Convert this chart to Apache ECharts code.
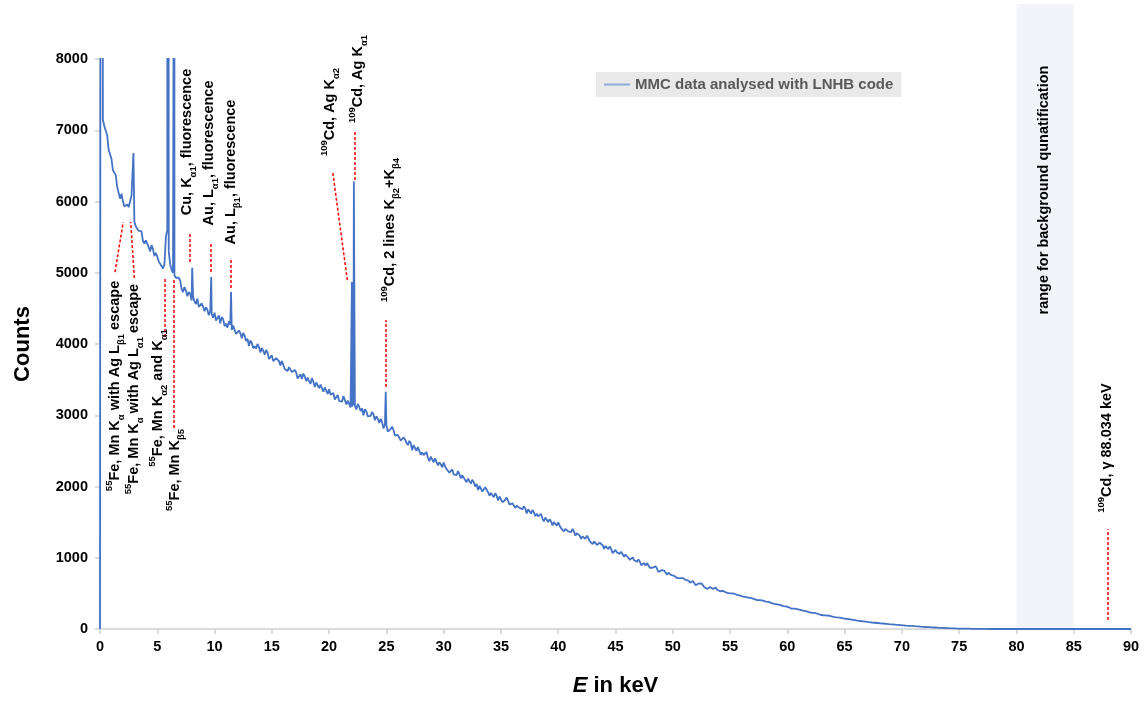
<!DOCTYPE html>
<html><head><meta charset="utf-8">
<script src="https://cdn.jsdelivr.net/npm/echarts@6/dist/echarts.min.js"></script>
<style>html,body{margin:0;padding:0;background:#fff}#c{width:1147px;height:702px}</style>
</head><body><div id="c"></div>
<script>
// ---- data ----
const seriesName = 'MMC data analysed with LNHB code';
const energyStep = 0.25; // keV between consecutive values of `counts`, starting at 0 keV
const counts = [
  0, 7150, 7035, 6730,
  6600, 6455, 6205, 6040,
  6005, 5925, 5920, 6080,
  5720, 5670, 5615, 5445,
  5455, 5360, 5390, 5235,
  5225, 5125, 5060, 5500,
  5300, 5040, 4960, 4905,
  4890, 4730, 4750, 4730,
  4610, 4600, 4635, 4500,
  4525, 4515, 4405, 4420,
  4440, 4345, 4290, 4350,
  4285, 4320, 4195, 4235,
  4120, 4155, 4155, 4040,
  3970, 4015, 3970, 4000,
  3880, 3905, 3915, 3790,
  3840, 3770, 3825, 3700,
  3710, 3630, 3675, 3605,
  3635, 3515, 3575, 3585,
  3480, 3480, 3520, 3395,
  3435, 3430, 3330, 3345,
  3365, 3275, 3220, 3285,
  3225, 3270, 3150, 3200,
  3125, 3135, 3160, 3060,
  3000, 3055, 3010, 3045,
  2930, 2950, 2950, 2815,
  2860, 2785, 2840, 2715,
  2725, 2645, 2690, 2615,
  2640, 2510, 2560, 2555,
  2445, 2440, 2485, 2355,
  2395, 2395, 2295, 2310,
  2335, 2245, 2195, 2240,
  2185, 2215, 2115, 2150,
  2060, 2090, 2095, 2000,
  1950, 1990, 1945, 1970,
  1870, 1895, 1905, 1805,
  1850, 1795, 1845, 1745,
  1765, 1700, 1750, 1690,
  1725, 1620, 1665, 1670,
  1585, 1580, 1615, 1510,
  1545, 1540, 1455, 1475,
  1495, 1415, 1370, 1425,
  1375, 1405, 1310, 1355,
  1265, 1305, 1310, 1230,
  1190, 1225, 1190, 1220,
  1125, 1150, 1160, 1065,
  1110, 1060, 1085, 1015,
  1025, 970, 1005, 955,
  975, 895, 925, 925,
  860, 860, 880, 800,
  825, 820, 760, 770,
  780, 725, 695, 730,
  695, 715, 650, 675,
  615, 638, 640, 588,
  560, 589, 563, 581,
  525, 540, 550, 490,
  515, 487, 505, 460,
  468, 437, 457, 428,
  440, 394, 416, 417,
  378, 376, 390, 342,
  356, 354, 315, 320,
  327, 290, 270, 292,
  268, 279, 240, 256,
  220, 232, 233, 199,
  182, 198, 185, 194,
  161, 171, 173, 140,
  154, 137, 145, 122,
  124, 107, 117, 102,
  108, 85, 95, 94,
  76, 76, 83, 62,
  69, 69, 53, 56,
  60, 46, 39, 50,
  41, 45, 31, 37,
  25, 29, 29, 19,
  16, 20, 15, 17,
  9, 11, 11, 5,
  7, 5, 3, 5,
  2, 3, 1, 2,
  1, 0, 1, 0,
  0
];
// channels in between (0.125 keV + n * 0.25 keV)
const midCounts = [
  0, 7060, 6930, 6720,
  6440, 6370, 6190, 6110,
  5930, 5960, 5930, 6100,
  5650, 5590, 5580, 5410,
  5440, 5300, 5330, 5280,
  5160, 5100, 5120, 5600,
  5120, 5000, 4930, 4930,
  4770, 4800, 4670, 4700,
  4660, 4560, 4520, 4570,
  4460, 4480, 4460, 4370,
  4330, 4400, 4380, 4250,
  4230, 4270, 4260, 4140,
  4190, 4080, 4120, 4075,
  4050, 3940, 3935, 3960,
  3945, 3850, 3880, 3800,
  3760, 3800, 3760, 3760,
  3650, 3620, 3660, 3580,
  3600, 3545, 3510, 3545,
  3530, 3440, 3470, 3460,
  3380, 3410, 3390, 3300,
  3290, 3310, 3255, 3200,
  3190, 3215, 3205, 3110,
  3160, 3080, 3120, 3095,
  3085, 2985, 2990, 3010,
  2985, 2890, 2900, 2880,
  2770, 2810, 2790, 2690,
  2730, 2640, 2660, 2580,
  2610, 2580, 2500, 2530,
  2480, 2415, 2400, 2420,
  2340, 2370, 2340, 2270,
  2280, 2270, 2210, 2170,
  2160, 2170, 2160, 2090,
  2110, 2040, 2060, 2035,
  2010, 1930, 1990, 1920,
  1910, 1850, 1870, 1860,
  1780, 1810, 1800, 1740,
  1745, 1730, 1700, 1680,
  1690, 1680, 1620, 1640,
  1620, 1560, 1550, 1565,
  1500, 1510, 1500, 1450,
  1450, 1420, 1405, 1370,
  1360, 1365, 1345, 1310,
  1300, 1265, 1280, 1250,
  1230, 1180, 1210, 1175,
  1165, 1120, 1120, 1080,
  1075, 1055, 1050, 1045,
  1000, 985, 965, 945,
  945, 920, 890, 900,
  880, 845, 845, 815,
  800, 795, 790, 755,
  745, 715, 715, 715,
  690, 680, 665, 650,
  630, 615, 615, 580,
  580, 575, 565, 550,
  530, 535, 515, 505,
  500, 495, 480, 470,
  455, 448, 440, 432,
  418, 404, 405, 398,
  383, 380, 362, 352,
  346, 338, 322, 318,
  305, 285, 286, 278,
  268, 258, 250, 236,
  228, 225, 214, 200,
  193, 190, 186, 176,
  167, 163, 160, 150,
  144, 140, 131, 125,
  117, 112, 108, 104,
  96, 91, 88, 84,
  79, 77, 72, 67,
  64, 61, 58, 55,
  52, 48, 45, 43,
  40, 38, 34, 31,
  28, 26, 23, 21,
  18, 17, 15, 13,
  11, 10, 8, 6,
  6, 4, 4, 4,
  3, 2, 2, 1,
  1, 1, 0, 0
];
const tailEnergy = [79, 80, 81, 82, 83, 84, 85, 86, 87, 87.9, 88.15, 89, 90];
const tailCounts = [1, 0, 1, 0, 0, 1, 0, 0, 1, 0, 0, 1, 0];
// sharp lines (peaks) and the low-energy edge
const lineEnergy = [0.1, 0.13, 2.92, 5.90, 6.49, 8.05, 9.71, 11.44, 21.99, 22.16, 24.94, 88.03];
const lineCounts = [0, 30000, 6680, 40000, 14000, 5070, 4940, 4730, 4870, 6280, 3330, 20];

// axes
const xMin = 0, xMax = 90, xStep = 5;
const yMin = 0, yMax = 8000, yStep = 1000;
const bandRange = [80, 85];

// annotations
const annotationTexts = [
  '{sup|55}{t|Fe, Mn K}{sub|α}{t| with Ag L}{sub|β1}{t| escape}',
  '{sup|55}{t|Fe, Mn K}{sub|α}{t| with Ag L}{sub|α1}{t| escape}',
  '{sup|55}{t|Fe, Mn K}{sub|α2}{t| and K}{sub|α1}',
  '{sup|55}{t|Fe, Mn K}{sub|β5}',
  '{t|Cu, K}{sub|α1}{t|, fluorescence}',
  '{t|Au, L}{sub|α1}{t|, fluorescence}',
  '{t|Au, L}{sub|β1}{t|, fluorescence}',
  '{sup|109}{t|Cd, Ag K}{sub|α2}',
  '{sup|109}{t|Cd, Ag K}{sub|α1}',
  '{sup|109}{t|Cd, 2 lines K}{sub|β2}{t|+K}{sub|β4}',
  '{t|range for background qunatification}',
  '{sup|109}{t|Cd, γ 88.034 keV}'
];
const annotationE =      [1.35, 2.97, 5.06, 6.59, 7.59, 9.51, 11.43, 20.08, 22.52, 25.31, 82.4, 87.9];
const annotationCounts = [3411, 3368, 3242, 2232, 6835, 6681, 6414, 7256, 7719, 5600, 6161, 2540];
// leader lines
const leaderFromE = [1.31, 3.0, 5.67, 6.4, 7.86, 9.66, 11.43, 21.59, 22.26, 24.97, 88.0];
const leaderFromC = [5010, 4926, 4098, 2820, 5151, 5011, 4786, 4898, 6302, 3396, 126];
const leaderToE =   [2.03, 2.68, 5.67, 6.4, 7.86, 9.66, 11.43, 20.31, 22.26, 24.97, 88.0];
const leaderToC =   [5712, 5712, 4940, 4926, 5572, 5418, 5207, 6418, 7003, 4337, 1400];

// ---- build ----
const points = counts.map((c, i) => [i * energyStep, c])
  .concat(midCounts.map((c, i) => [energyStep / 2 + i * energyStep, c]))
  .concat(tailEnergy.map((e, i) => [e, tailCounts[i]]))
  .concat(lineEnergy.map((e, i) => [e, lineCounts[i]]))
  .sort((a, b) => a[0] - b[0]);

const FONT = '"Liberation Sans", Arial, Helvetica, sans-serif';
const rich = {
  t:   {fontSize: 14.5, fontWeight: 'bold', color: '#000', fontFamily: FONT, lineHeight: 22},
  sup: {fontSize: 9.5, fontWeight: 'bold', color: '#000', fontFamily: FONT, lineHeight: 11, verticalAlign: 'top'},
  sub: {fontSize: 9.5, fontWeight: 'bold', color: '#000', fontFamily: FONT, lineHeight: 11, verticalAlign: 'bottom'}
};

const chart = echarts.init(document.getElementById('c'), null, {renderer: 'canvas'});
chart.setOption({
  animation: false,
  backgroundColor: '#fff',
  grid: [
    {left: 100, right: 16, top: 59, bottom: 73},
    {left: 100, right: 16, top: 4, bottom: 73}
  ],
  legend: {
    data: [seriesName], left: 596, top: 72,
    backgroundColor: '#e9e9e9', padding: [5, 8],
    icon: 'rect', itemWidth: 26, itemHeight: 2,
    itemStyle: {color: '#8eaadb'},
    textStyle: {fontSize: 15, fontWeight: 'bold', color: '#595959', fontFamily: FONT},
    selectedMode: false
  },
  xAxis: [{
    type: 'value', min: xMin, max: xMax, interval: xStep,
    axisLine: {show: true, lineStyle: {color: '#d0d0d0', width: 1.5}},
    axisTick: {show: true, length: 5, lineStyle: {color: '#d0d0d0', width: 1.5}},
    splitLine: {show: false},
    axisLabel: {fontSize: 14.5, fontWeight: 'bold', color: '#000', fontFamily: FONT, margin: 10},
    name: '{i|E}{n| in keV}', nameLocation: 'middle', nameGap: 46,
    nameTextStyle: {rich: {
      i: {fontSize: 22, fontWeight: 'bold', fontStyle: 'italic', color: '#000', fontFamily: FONT},
      n: {fontSize: 22, fontWeight: 'bold', color: '#000', fontFamily: FONT}
    }}
  }, {
    gridIndex: 1, type: 'value', min: xMin, max: xMax, show: false
  }],
  yAxis: [{
    type: 'value', min: yMin, max: yMax, interval: yStep,
    axisLine: {show: true, lineStyle: {color: '#d0d0d0', width: 1.5}},
    axisTick: {show: true, length: 5, lineStyle: {color: '#d0d0d0', width: 1.5}},
    splitLine: {show: false},
    axisLabel: {fontSize: 14.5, fontWeight: 'bold', color: '#000', fontFamily: FONT, margin: 12,
      formatter: v => String(v)},
    name: 'Counts', nameLocation: 'middle', nameGap: 66, nameRotate: 90,
    nameTextStyle: {fontSize: 22, fontWeight: 'bold', color: '#000', fontFamily: FONT}
  }, {
    gridIndex: 1, type: 'value', min: 0, max: 1, show: false
  }],
  series: [{
    name: 'band', type: 'line', xAxisIndex: 1, yAxisIndex: 1, z: 0, silent: true,
    data: [[bandRange[0], 0]], symbol: 'none', lineStyle: {width: 0},
    markArea: {silent: true, itemStyle: {color: '#f2f4f9'}, data: [[{xAxis: bandRange[0]}, {xAxis: bandRange[1]}]]}
  }, {
    name: seriesName, type: 'line', data: points, z: 3,
    symbol: 'none', showSymbol: false, clip: true,
    lineStyle: {color: '#4472c4', width: 1.8},
    itemStyle: {color: '#4472c4'},
    markLine: {
      silent: true, symbol: ['none', 'none'], label: {show: false},
      lineStyle: {color: '#ff0000', type: [3, 2], width: 1.5},
      data: leaderFromE.map((e, i) => [{coord: [e, leaderFromC[i]]}, {coord: [leaderToE[i], leaderToC[i]]}])
    },
    markPoint: {
      silent: true, symbol: 'circle', symbolSize: 0,
      label: {show: true, position: 'inside', rotate: 90, rich: rich},
      data: annotationTexts.map((txt, i) => ({
        coord: [annotationE[i], annotationCounts[i]],
        label: {formatter: txt}
      }))
    }
  }]
});
</script></body></html>
